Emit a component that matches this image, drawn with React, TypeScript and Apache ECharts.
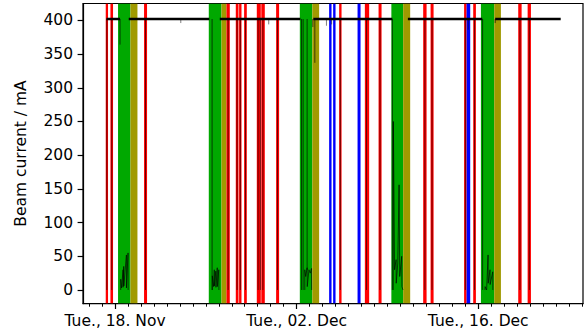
import React, { useEffect, useRef } from 'react';
import * as echarts from 'echarts';

// x values are days since Tue 18 Nov 00:00
const X_MIN = -2.47;
const X_MAX = 36.08;
const Y_MIN = -20.2;
const Y_MAX = 425;

const majorTickDays = [0, 14, 28];
const majorTickLabels = ['Tue., 18. Nov', 'Tue., 02. Dec', 'Tue., 16. Dec'];
const minorTickDays = [-2, -1, 0, 1, 2, 3, 4, 5, 6, 7, 8, 9, 10, 11, 12, 13, 14, 15, 16, 17, 18, 19, 20, 21, 22, 23, 24, 25, 26, 27, 28, 29, 30, 31, 32, 33, 34, 35, 36];
const yTickValues = [0, 50, 100, 150, 200, 250, 300, 350, 400];

const greenStart = [0.231, 7.228, 14.247, 21.305, 28.209];
const greenEnd = [1.188, 8.207, 15.211, 22.215, 29.235];
const oliveStart = [1.188, 8.207, 15.211, 22.215, 29.235];
const oliveEnd = [1.728, 8.593, 15.736, 22.755, 29.752];
const redStart = [-0.717, -0.355, 2.237, 8.593, 9.31, 9.565, 9.951, 10.93, 11.277, 12.419, 17.279, 19.261, 20.318, 23.758, 24.329, 26.913, 27.615, 31.086, 31.811];
const redEnd = [-0.54, -0.154, 2.468, 8.848, 9.519, 9.75, 10.159, 11.239, 11.547, 12.65, 17.464, 19.593, 20.549, 24.02, 24.56, 27.106, 27.823, 31.348, 32.066];
const blueStart = [16.507, 16.816, 18.698, 27.106];
const blueEnd = [16.692, 17.001, 18.929, 27.384];

// stored beam (~402 mA) periods
const storedStart = [-0.663, 1.057, 8.076, 15.29, 22.578, 29.31];
const storedEnd = [0.386, 7.27, 14.29, 21.38, 28.31, 34.36];
const storedLevel = 402;

// beam dumps (at the red events)
const dumpTimes = [-0.63, -0.25, 2.35, 8.72, 9.41, 9.66, 10.06, 11.03, 11.2, 11.4, 12.53, 17.37, 19.39, 20.43, 23.89, 24.44, 27.01, 27.72, 31.22, 31.94];

// small dips of the stored beam
const spikeTimes = [5.07, 11.85, 16.3, 16.7, 27.23];
const spikeMin = [396, 394, 392, 394, 386];

// current during machine periods (green)
const traceTimes = [
  [0.386, 0.386],
  [0.44, 0.44, 0.5, 0.617, 0.62, 0.671, 0.68, 0.879, 0.88, 1.003, 1.01],
  [7.482, 7.482],
  [7.5, 7.5, 7.6, 7.652, 7.66, 7.768, 7.78, 7.883, 7.89, 7.999, 8.01],
  [14.378, 14.378],
  [14.502, 14.502],
  [14.81, 14.81],
  [14.63, 14.63, 14.7, 14.81, 14.82, 14.95, 15.05, 15.15, 15.16],
  [15.25, 15.25],
  [15.404, 15.404],
  [21.38, 21.38],
  [21.45, 21.46, 21.55, 21.67, 21.68, 21.8, 21.9, 21.95, 22.1, 22.12, 22.2],
  [28.34, 28.34],
  [28.52, 28.53, 28.65, 28.76, 28.77, 28.91, 28.92, 29.12, 29.13],
  [29.31, 29.31],
];
const traceValues = [
  [402, 364],
  [0, 16, 3, 30, 4, 35, 6, 52, 3, 55, 0],
  [402, 0],
  [0, 21, 5, 30, 6, 28, 4, 33, 5, 30, 0],
  [402, 0],
  [402, 0],
  [402, 30],
  [0, 30, 20, 33, 5, 30, 25, 32, 0],
  [402, 390],
  [402, 337],
  [402, 0],
  [0, 250, 30, 45, 10, 40, 156, 20, 50, 5, 0],
  [402, 0],
  [0, 5, 0, 52, 10, 30, 8, 27, 0],
  [402, 396],
];

const FONT = 'DejaVu Sans';

function bandSeries(starts: number[], ends: number[], color: string, z: number) {
  return {
    type: 'custom',
    xAxisIndex: 0,
    yAxisIndex: 0,
    silent: true,
    z,
    clip: true,
    encode: { x: [0, 1] },
    data: starts.map((s, i) => [s, ends[i]]),
    renderItem: (_params: any, api: any) => {
      const p0 = api.coord([api.value(0), Y_MAX]);
      const p1 = api.coord([api.value(1), Y_MIN]);
      return {
        type: 'rect',
        shape: { x: p0[0], y: p0[1], width: p1[0] - p0[0], height: p1[1] - p0[1] },
        style: { fill: color },
      };
    },
  };
}

export default function App() {
  const ref = useRef<HTMLDivElement>(null);
  useEffect(() => {
    if (!ref.current) return;
    const chart = echarts.init(ref.current, undefined, { renderer: 'svg' });
    const axisText = { fontFamily: FONT, fontSize: 15.5, color: '#000' };
    const option: any = {
      animation: false,
      grid: {
        left: 83,
        right: 2,
        top: 3.5,
        bottom: 32.4,
        show: true,
        borderColor: '#000',
        borderWidth: 1.2,
        backgroundColor: 'transparent',
      },
      xAxis: [
        {
          type: 'value',
          min: X_MIN,
          max: X_MAX,
          position: 'bottom',
          axisLine: { show: true, onZero: false, lineStyle: { color: '#000', width: 1.2 } },
          axisTick: { show: true, customValues: minorTickDays, length: 3.1, lineStyle: { color: '#000', width: 1 } },
          axisLabel: { show: false },
          splitLine: { show: false },
        },
        {
          type: 'value',
          min: X_MIN,
          max: X_MAX,
          position: 'bottom',
          offset: 0,
          axisLine: { show: false, onZero: false },
          axisTick: { show: true, customValues: majorTickDays, length: 5.4, lineStyle: { color: '#000', width: 1.2 } },
          axisLabel: {
            show: true,
            customValues: majorTickDays,
            margin: 9,
            ...axisText,
            formatter: (v: number) => {
              const i = majorTickDays.indexOf(Math.round(v));
              return i >= 0 ? majorTickLabels[i] : '';
            },
          },
          splitLine: { show: false },
        },
      ],
      yAxis: {
        type: 'value',
        min: Y_MIN,
        max: Y_MAX,
        name: 'Beam current / mA',
        nameLocation: 'middle',
        nameGap: 54,
        nameTextStyle: { ...axisText },
        axisLine: { show: true, onZero: false, lineStyle: { color: '#000', width: 1.2 } },
        axisTick: { show: true, customValues: yTickValues, length: 5.4, lineStyle: { color: '#000', width: 1.2 } },
        axisLabel: { show: true, customValues: yTickValues, margin: 10, ...axisText },
        splitLine: { show: false },
      },
      series: [
        bandSeries(greenStart, greenEnd, '#00a800', 1),
        bandSeries(oliveStart, oliveEnd, '#a09a00', 1),
        bandSeries(redStart, redEnd, '#ff0000', 1),
        bandSeries(blueStart, blueEnd, '#0000ff', 1),
        {
          type: 'lines',
          coordinateSystem: 'cartesian2d',
          xAxisIndex: 0,
          yAxisIndex: 0,
          polyline: true,
          silent: true,
          z: 3,
          data: dumpTimes.map((t) => ({ coords: [[t, storedLevel], [t, 0]] })),
          lineStyle: { color: '#000', width: 1, opacity: 0.6 },
        },
        {
          type: 'lines',
          coordinateSystem: 'cartesian2d',
          xAxisIndex: 0,
          yAxisIndex: 0,
          polyline: true,
          silent: true,
          z: 3,
          data: spikeTimes.map((t, i) => ({ coords: [[t, storedLevel], [t, spikeMin[i]]] })),
          lineStyle: { color: '#000', width: 1, opacity: 0.5 },
        },
        {
          type: 'lines',
          coordinateSystem: 'cartesian2d',
          xAxisIndex: 0,
          yAxisIndex: 0,
          polyline: true,
          silent: true,
          z: 4,
          data: traceTimes.map((ts, i) => ({ coords: ts.map((t, j) => [t, traceValues[i][j]]) })),
          lineStyle: { color: '#000', width: 0.9, opacity: 0.7 },
        },
        {
          type: 'lines',
          coordinateSystem: 'cartesian2d',
          xAxisIndex: 0,
          yAxisIndex: 0,
          polyline: true,
          silent: true,
          z: 5,
          data: storedStart.map((s, i) => ({ coords: [[s, storedLevel], [storedEnd[i], storedLevel]] })),
          lineStyle: { color: '#000', width: 2.4, opacity: 1 },
        },
      ],
    };
    chart.setOption(option);
    return () => chart.dispose();
  }, []);
  return (
    <div
      ref={ref}
      style={{ position: 'fixed', left: 0, top: 0, width: 585, height: 336, background: '#fff' }}
    />
  );
}
